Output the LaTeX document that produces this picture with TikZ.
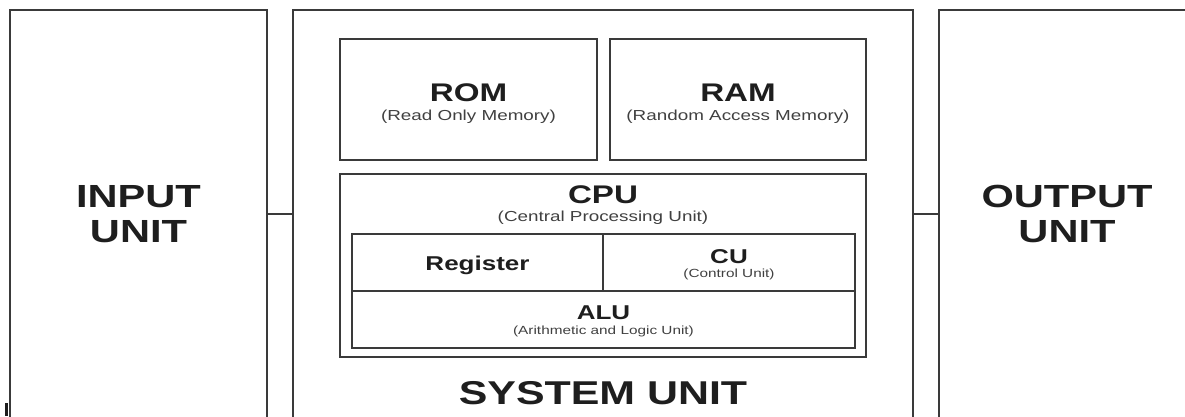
\documentclass[tikz,border=0pt]{standalone}
\usepackage{fontspec}
\setmainfont[FakeStretch=1.3]{Liberation Sans}
\definecolor{edge}{HTML}{3A3A3A}
\definecolor{ink}{HTML}{1E1E1E}
\tikzset{
  unitbox/.style={
    draw=edge,
    line width=1.8pt,
    inner sep=0pt
  },
  unitname/.style={
    text=ink,
    align=center,
    font=\bfseries\fontsize{32}{35}\selectfont
  },
  bigtitle/.style={
    anchor=base,
    inner sep=0pt,
    text=ink,
    font=\bfseries\fontsize{33}{33}\selectfont
  },
  midtitle/.style={
    anchor=base,
    inner sep=0pt,
    text=ink,
    font=\bfseries\fontsize{25.5}{25.5}\selectfont
  },
  smalltitle/.style={
    anchor=base,
    inner sep=0pt,
    text=ink,
    font=\bfseries\fontsize{20}{20}\selectfont
  },
  subtitle/.style={
    anchor=base,
    inner sep=0pt,
    text=ink!85,
    font=\fontsize{14.5}{14.5}\selectfont
  },
  tinytitle/.style={
    anchor=base,
    inner sep=0pt,
    text=ink!85,
    font=\fontsize{11.8}{11.8}\selectfont
  },
  wire/.style={
    draw=edge,
    line width=1.8pt
  }
}

\begin{document}
\begin{tikzpicture}[x=1pt, y=-1pt]
  \useasboundingbox (0,0) rectangle (1185,416);
  % the three units
  \node[unitbox, minimum width=257, minimum height=408] (input) at (138.5,214) {};
  \node[unitbox, minimum width=620, minimum height=408] (sys) at (603,214) {};
  \node[unitbox, minimum width=256, minimum height=408] (output) at (1067,214) {};
  \node[unitname] (inputtxt) at (input.center) {INPUT\\UNIT};
  \node[unitname] (outputtxt) at (output.center) {OUTPUT\\UNIT};
  \node[bigtitle] (systxt) at (603,404) {SYSTEM UNIT};
  \draw[wire] (input.east) -- (sys.west);
  \draw[wire] (sys.east) -- (output.west);
  % memory
  \node[unitbox, minimum width=257, minimum height=121] (rom) at (468.5,99.5) {};
  \node[unitbox, minimum width=256, minimum height=121] (ram) at (738,99.5) {};
  \node[midtitle] (romtxt) at (468.5,101) {ROM};
  \node[subtitle] (romsub) at (468.5,120) {(Read Only Memory)};
  \node[midtitle] (ramtxt) at (738,101) {RAM};
  \node[subtitle] (ramsub) at (738,120) {(Random Access Memory)};
  % processor
  \node[unitbox, minimum width=526, minimum height=183] (cpu) at (603,265.5) {};
  \node[midtitle] (cputxt) at (603,203) {CPU};
  \node[subtitle] (cpusub) at (603,221) {(Central Processing Unit)};
  \node[unitbox, minimum width=251, minimum height=57] (reg) at (477.5,262.5) {};
  \node[unitbox, minimum width=252, minimum height=57] (cu) at (729,262.5) {};
  \node[unitbox, minimum width=503, minimum height=57] (alu) at (603.5,319.5) {};
  \node[smalltitle] (regtxt) at (477.5,270) {Register};
  \node[smalltitle] (cutxt) at (729,263) {CU};
  \node[tinytitle] (cusub) at (729,277.5) {(Control Unit)};
  \node[smalltitle] (alutxt) at (603.5,319.5) {ALU};
  \node[tinytitle] (alusub) at (603.5,334.5) {(Arithmetic and Logic Unit)};
  % stray mark at the corner
  \fill[ink] (4.5,403) rectangle (7.5,416);
\end{tikzpicture}
\end{document}
